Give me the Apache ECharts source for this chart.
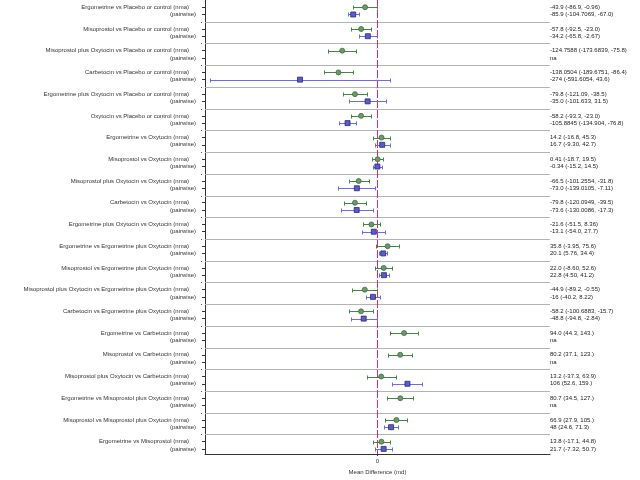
<!DOCTYPE html>
<html><head><meta charset="utf-8">
<script src="https://cdn.jsdelivr.net/npm/echarts@6/dist/echarts.min.js"></script>
<style>html,body{margin:0;padding:0;background:#fff}#c{width:640px;height:480px}</style>
</head><body><div id="c"></div>
<script>
const comparisons = [
  'Ergometrine vs Placebo or control',
  'Misoprostol vs Placebo or control',
  'Misoprostol plus Oxytocin vs Placebo or control',
  'Carbetocin vs Placebo or control',
  'Ergometrine plus Oxytocin vs Placebo or control',
  'Oxytocin vs Placebo or control',
  'Ergometrine vs Oxytocin',
  'Misoprostol vs Oxytocin',
  'Misoprostol plus Oxytocin vs Oxytocin',
  'Carbetocin vs Oxytocin',
  'Ergometrine plus Oxytocin vs Oxytocin',
  'Ergometrine vs Ergometrine plus Oxytocin',
  'Misoprostol vs Ergometrine plus Oxytocin',
  'Misoprostol plus Oxytocin vs Ergometrine plus Oxytocin',
  'Carbetocin vs Ergometrine plus Oxytocin',
  'Ergometrine vs Carbetocin',
  'Misoprostol vs Carbetocin',
  'Misoprostol plus Oxytocin vs Carbetocin',
  'Ergometrine vs Misoprostol plus Oxytocin',
  'Misoprostol vs Misoprostol plus Oxytocin',
  'Ergometrine vs Misoprostol'
];
const nmaEst = [-43.9, -57.8, -124.7588, -138.0504, -79.8, -58.2, 14.2, 0.41, -66.5, -79.8, -21.6, 35.8, 22.0, -44.9, -58.2, 94.0, 80.2, 13.2, 80.7, 66.9, 13.8];
const nmaLo  = [-86.9, -92.5, -173.6839, -189.6751, -121.09, -93.3, -16.8, -18.7, -101.2554, -120.0949, -51.5, -3.95, -8.60, -89.2, -100.6883, 44.3, 37.1, -37.3, 34.5, 27.9, -17.1];
const nmaHi  = [-0.96, -23.0, -75.8, -86.4, -38.5, -23.0, 45.3, 19.5, -31.8, -39.5, 8.36, 75.6, 52.6, -0.55, -15.7, 143, 123, 63.9, 127, 105, 44.8];
const pwEst  = [-85.9, -34.2, null, -274, -35.0, -105.8845, 16.7, -0.34, -73.0, -73.6, -13.1, 20.1, 22.8, -16, -48.8, null, null, 106, null, 48, 21.7];
const pwLo   = [-104.7069, -65.8, null, -591.6054, -101.633, -134.904, -9.30, -15.2, -139.0105, -130.0086, -54.0, 5.76, 4.50, -40.2, -94.8, null, null, 52.6, null, 24.6, -7.32];
const pwHi   = [-67.0, -2.67, null, 43.6, 31.5, -76.8, 42.7, 14.5, -7.11, -17.3, 27.7, 34.4, 41.2, 8.22, -2.84, null, null, 159, null, 71.3, 50.7];
const nmaText = ['-43.9 (-86.9, -0.96)', '-57.8 (-92.5, -23.0)', '-124.7588 (-173.6839, -75.8)', '-138.0504 (-189.6751, -86.4)', '-79.8 (-121.09, -38.5)', '-58.2 (-93.3, -23.0)', '14.2 (-16.8, 45.3)', '0.41 (-18.7, 19.5)', '-66.5 (-101.2554, -31.8)', '-79.8 (-120.0949, -39.5)', '-21.6 (-51.5, 8.36)', '35.8 (-3.95, 75.6)', '22.0 (-8.60, 52.6)', '-44.9 (-89.2, -0.55)', '-58.2 (-100.6883, -15.7)', '94.0 (44.3, 143.)', '80.2 (37.1, 123.)', '13.2 (-37.3, 63.9)', '80.7 (34.5, 127.)', '66.9 (27.9, 105.)', '13.8 (-17.1, 44.8)'];
const pwText = ['-85.9 (-104.7069, -67.0)', '-34.2 (-65.8, -2.67)', 'na', '-274 (-591.6054, 43.6)', '-35.0 (-101.633, 31.5)', '-105.8845 (-134.904, -76.8)', '16.7 (-9.30, 42.7)', '-0.34 (-15.2, 14.5)', '-73.0 (-139.0105, -7.11)', '-73.6 (-130.0086, -17.3)', '-13.1 (-54.0, 27.7)', '20.1 (5.76, 34.4)', '22.8 (4.50, 41.2)', '-16 (-40.2, 8.22)', '-48.8 (-94.8, -2.84)', 'na', 'na', '106 (52.6, 159.)', 'na', '48 (24.6, 71.3)', '21.7 (-7.32, 50.7)'];
const xTickLabels = ['0'];
const xAxisName = 'Mean Difference (md)';
const refValue = 0;

const Y_MAX = 62.7;
const leftLab = {}, rightLab = {}, rowVals = [], sepVals = [];
const nmaPts = [], nmaBars = [], pwPts = [], pwBars = [];
comparisons.forEach((c, g) => {
  const kn = 3 * g + 1, kp = 3 * g + 2;
  if (g > 0) sepVals.push(3 * g);
  rowVals.push(kn, kp);
  leftLab[kn] = '{n|' + c + ' (nma)}';
  leftLab[kp] = '(pairwise)';
  rightLab[kn] = nmaText[g];
  rightLab[kp] = pwText[g];
  nmaPts.push([nmaEst[g], kn]);
  nmaBars.push([kn, nmaLo[g], nmaHi[g]]);
  if (pwEst[g] !== null) {
    pwPts.push([pwEst[g], kp]);
    pwBars.push([kp, pwLo[g], pwHi[g]]);
  }
});

function errRender(color) {
  return function (params, api) {
    const k = api.value(0), lo = api.value(1), hi = api.value(2);
    const a = api.coord([lo, k]), b = api.coord([hi, k]);
    const y = Math.round(a[1]) + 0.5;
    const x1 = Math.round(a[0]) + 0.5, x2 = Math.round(b[0]) + 0.5;
    const c = 2;
    const st = { stroke: color, lineWidth: 1 };
    return { type: 'group', children: [
      { type: 'line', shape: { x1: x1, y1: y, x2: x2, y2: y }, style: st },
      { type: 'line', shape: { x1: x1, y1: y - c, x2: x1, y2: y + c }, style: st },
      { type: 'line', shape: { x1: x2, y1: y - c, x2: x2, y2: y + c }, style: st }
    ]};
  };
}

function sepRender(params, api) {
  const k = api.value(0);
  const a = api.coord([-610, k]), b = api.coord([610, k]);
  const y = Math.round(a[1]) + 0.5;
  return { type: 'group', children: [
    { type: 'line', shape: { x1: a[0], y1: y, x2: b[0], y2: y }, style: { stroke: '#b3b3b3', lineWidth: 1 } },
    { type: 'rect', shape: { x: a[0] - 4, y: y - 0.5, width: 1, height: 1 }, style: { fill: '#555' } }
  ]};
}

const FONT = 'Liberation Sans, Arial, sans-serif';
const chart = echarts.init(document.getElementById('c'), null, { renderer: 'canvas' });
chart.setOption({
  animation: false,
  backgroundColor: '#fff',
  textStyle: { fontFamily: FONT },
  grid: { left: 205, right: 90, top: 0, bottom: 21, containLabel: false },
  xAxis: {
    type: 'value', min: -610, max: 610, interval: 610,
    axisLine: { show: true, onZero: false, lineStyle: { color: '#333', width: 1 } },
    axisTick: { show: true, length: 2, customValues: [0], lineStyle: { color: '#333' } },
    axisLabel: { customValues: [0], formatter: v => (Math.abs(v) < 1e-9 ? xTickLabels[0] : ''), fontSize: 6, color: '#333', margin: 4, fontFamily: FONT },
    splitLine: { show: false },
    name: xAxisName, nameLocation: 'middle', nameGap: 15,
    nameTextStyle: { fontSize: 6, color: '#333', fontFamily: FONT }
  },
  yAxis: [{
    type: 'value', inverse: true, min: 0, max: Y_MAX, interval: 1,
    axisLine: { show: true, onZero: false, lineStyle: { color: '#333', width: 1 } },
    axisTick: { show: true, length: 3, customValues: rowVals, lineStyle: { color: '#333' } },
    axisLabel: {
      customValues: rowVals,
      formatter: v => leftLab[Math.round(v)] || '',
      fontSize: 6, color: '#333', margin: 9, fontFamily: FONT,
      rich: { n: { fontSize: 6, color: '#333', padding: [0, 7, 0, 0], fontFamily: FONT } }
    },
    splitLine: { show: false }
  }, {
    type: 'value', inverse: true, min: 0, max: Y_MAX, interval: 1, position: 'right',
    axisLine: { show: false, onZero: false }, axisTick: { show: false },
    axisLabel: {
      customValues: rowVals,
      formatter: v => rightLab[Math.round(v)] || '',
      fontSize: 6, color: '#222', margin: 0, align: 'left', fontFamily: FONT
    },
    splitLine: { show: false }
  }],
  series: [
    { type: 'custom', data: sepVals.map(v => [v]), encode: { y: 0 }, renderItem: sepRender, silent: true, z: 1, clip: false },
    { type: 'line', data: [[refValue, 0], [refValue, Y_MAX]], symbol: 'none', silent: true, z: 2,
      color: '#d0307a',
      lineStyle: { color: '#d0307a', width: 1, type: [8, 2], opacity: 1 } },
    { type: 'custom', data: nmaBars, encode: { x: [1, 2], y: 0 }, renderItem: errRender('#3f8a3f'), silent: true, z: 3 },
    { type: 'custom', data: pwBars, encode: { x: [1, 2], y: 0 }, renderItem: errRender('#6a6af2'), silent: true, z: 3 },
    { type: 'scatter', data: nmaPts, symbol: 'circle', symbolSize: 5,
      itemStyle: { color: '#6a9a6a', borderColor: '#3d6b3d', borderWidth: 0.8, opacity: 1 }, z: 5, silent: true },
    { type: 'scatter', data: pwPts, symbol: 'rect', symbolSize: 5,
      itemStyle: { color: '#5a5ad0', borderColor: '#2a2a7a', borderWidth: 0.8, opacity: 1 }, z: 5, silent: true }
  ]
});
</script>
</body></html>
